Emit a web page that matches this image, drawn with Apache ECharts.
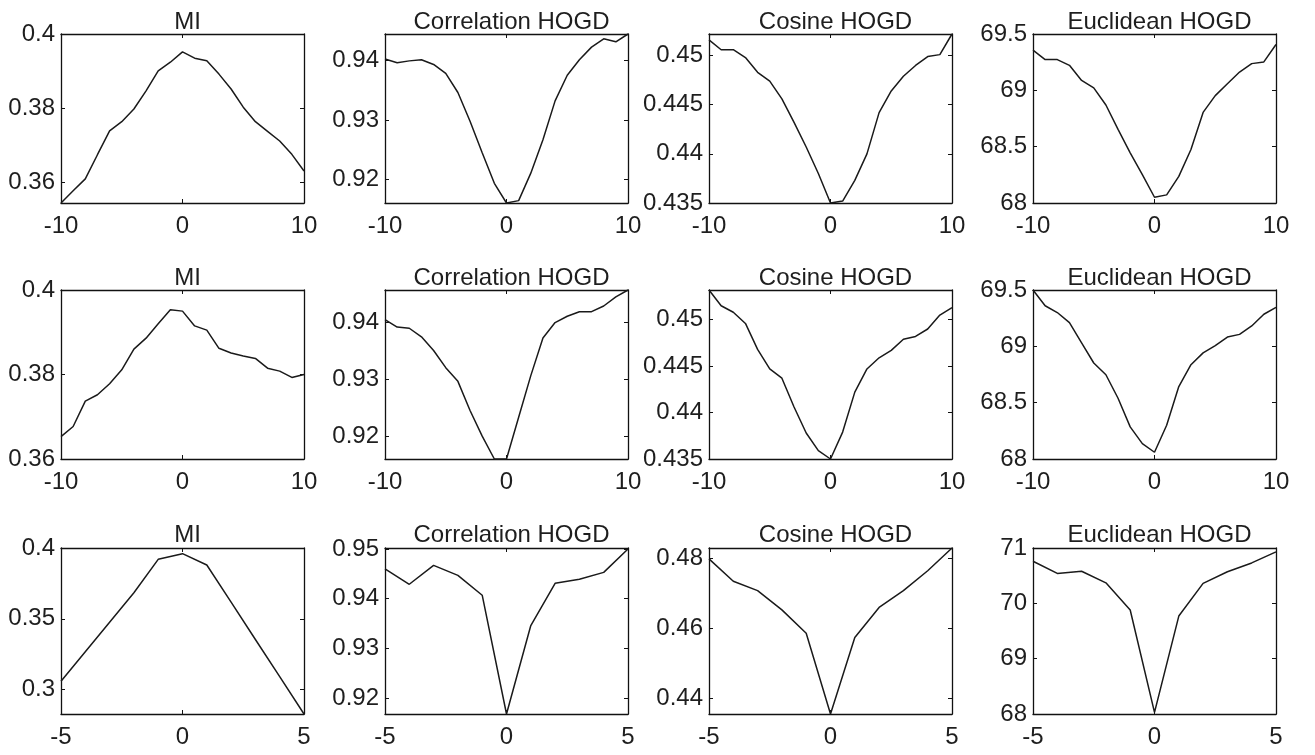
<!DOCTYPE html>
<html>
<head>
<meta charset="utf-8">
<script src="https://cdn.jsdelivr.net/npm/echarts@6/dist/echarts.min.js"></script>
<style>
  html, body { margin: 0; padding: 0; background: #fff; }
  #chart { width: 1315px; height: 755px; }
</style>
</head>
<body>
<div id="chart"></div>
<script>
// x offsets
const xs10 = [-10, -9, -8, -7, -6, -5, -4, -3, -2, -1, 0, 1, 2, 3, 4, 5, 6, 7, 8, 9, 10];
const xs5 = [-5, -4, -3, -2, -1, 0, 1, 2, 3, 4, 5];

const titles = ["MI", "Correlation HOGD", "Cosine HOGD", "Euclidean HOGD"];

// row 1
const mi1 = [0.3545, 0.3578, 0.3610, 0.3675, 0.3739, 0.3764, 0.3798, 0.3847, 0.3901, 0.3924, 0.3952,
  0.3935, 0.3928, 0.3892, 0.3852, 0.3803, 0.3764, 0.3738, 0.3712, 0.3676, 0.3631];
const corr1 = [0.9402, 0.9396, 0.9399, 0.9401, 0.9393, 0.9378, 0.9346, 0.9298, 0.9245, 0.9194, 0.9161,
  0.9165, 0.9211, 0.9267, 0.9332, 0.9375, 0.9401, 0.9422, 0.9436, 0.9431, 0.9444];
const cos1 = [0.4516, 0.4506, 0.4506, 0.4498, 0.4483, 0.4474, 0.4456, 0.4432, 0.4407, 0.4380, 0.4350,
  0.4352, 0.4373, 0.4400, 0.4442, 0.4464, 0.4479, 0.4490, 0.4499, 0.4501, 0.4522];
const euc1 = [69.357, 69.273, 69.273, 69.222, 69.088, 69.022, 68.870, 68.654, 68.445, 68.251, 68.051,
  68.072, 68.236, 68.475, 68.804, 68.953, 69.058, 69.162, 69.237, 69.252, 69.407];

// row 2
const mi2 = [0.3653, 0.3677, 0.3737, 0.3752, 0.3778, 0.3811, 0.3860, 0.3886, 0.3920, 0.3953, 0.3950,
  0.3915, 0.3905, 0.3862, 0.3851, 0.3844, 0.3838, 0.3815, 0.3808, 0.3793, 0.3800];
const corr2 = [0.9405, 0.9392, 0.9390, 0.9375, 0.9351, 0.9321, 0.9297, 0.9246, 0.9201, 0.9161, 0.9161,
  0.9234, 0.9307, 0.9373, 0.9400, 0.9411, 0.9419, 0.9419, 0.9429, 0.9445, 0.9457];
const cos2 = [0.4532, 0.4515, 0.4508, 0.4496, 0.4468, 0.4447, 0.4437, 0.4406, 0.4378, 0.4359, 0.4350,
  0.4379, 0.4422, 0.4447, 0.4459, 0.4467, 0.4479, 0.4482, 0.4490, 0.4505, 0.4513];
const euc2 = [69.500, 69.360, 69.300, 69.210, 69.031, 68.852, 68.748, 68.539, 68.285, 68.136, 68.060,
  68.299, 68.643, 68.837, 68.942, 69.007, 69.082, 69.106, 69.181, 69.285, 69.345];

// row 3
const mi3 = [0.3059, 0.3267, 0.3476, 0.3684, 0.3920, 0.3960, 0.3880, 0.3618, 0.3354, 0.3092, 0.2828];
const corr3 = [0.9460, 0.9429, 0.9467, 0.9447, 0.9407, 0.9168, 0.9346, 0.9431, 0.9439, 0.9453, 0.9500];
const cos3 = [0.4798, 0.4734, 0.4707, 0.4652, 0.4585, 0.4354, 0.4573, 0.4659, 0.4707, 0.4764, 0.4829];
const euc3 = [70.76, 70.54, 70.58, 70.37, 69.88, 68.03, 69.77, 70.36, 70.57, 70.73, 70.93];

// tick labels
const xTicks10 = [-10, 0, 10];
const xTicks5 = [-5, 0, 5];
const yTicksMI = [0.36, 0.38, 0.4];
const yTicksMI3 = [0.3, 0.35, 0.4];
const yTicksCorr = [0.92, 0.93, 0.94];
const yTicksCorr3 = [0.92, 0.93, 0.94, 0.95];
const yTicksCos = [0.435, 0.44, 0.445, 0.45];
const yTicksCos3 = [0.44, 0.46, 0.48];
const yTicksEuc = [68, 68.5, 69, 69.5];
const yTicksEuc3 = [68, 69, 70, 71];

// y limits per panel (row-major)
const yLimits = [
  [0.3545, 0.4], [0.9161, 0.9444], [0.435, 0.4522], [68, 69.5],
  [0.36, 0.4], [0.9161, 0.9457], [0.435, 0.4532], [68, 69.5],
  [0.2828, 0.4], [0.9168, 0.9502], [0.4354, 0.4829], [68, 71]
];

const panels = [
  { x: xs10, y: mi1, xt: xTicks10, yt: yTicksMI },
  { x: xs10, y: corr1, xt: xTicks10, yt: yTicksCorr },
  { x: xs10, y: cos1, xt: xTicks10, yt: yTicksCos },
  { x: xs10, y: euc1, xt: xTicks10, yt: yTicksEuc },
  { x: xs10, y: mi2, xt: xTicks10, yt: yTicksMI },
  { x: xs10, y: corr2, xt: xTicks10, yt: yTicksCorr },
  { x: xs10, y: cos2, xt: xTicks10, yt: yTicksCos },
  { x: xs10, y: euc2, xt: xTicks10, yt: yTicksEuc },
  { x: xs5, y: mi3, xt: xTicks5, yt: yTicksMI3 },
  { x: xs5, y: corr3, xt: xTicks5, yt: yTicksCorr3 },
  { x: xs5, y: cos3, xt: xTicks5, yt: yTicksCos3 },
  { x: xs5, y: euc3, xt: xTicks5, yt: yTicksEuc3 }
];

// layout
const colLeft = [61, 385, 709, 1033];
const boxWidth = 243;
const rowTop = [34, 290, 548];
const rowHeight = [169, 169, 166];
const titleTop = [5, 261, 518];

const font = "'Liberation Sans', Arial, sans-serif";
const textColor = "#1e1e1e";
const fmt = (v) => String(parseFloat(Number(v).toFixed(4)));

const grid = [];
const title = [];
const xAxis = [];
const yAxis = [];
const series = [];

panels.forEach((p, i) => {
  const r = Math.floor(i / 4);
  const c = i % 4;
  grid.push({ left: colLeft[c], top: rowTop[r], width: boxWidth, height: rowHeight[r], containLabel: false });
  title.push({
    text: titles[c],
    left: colLeft[c] + boxWidth / 2,
    top: titleTop[r],
    textAlign: "center",
    textStyle: { fontFamily: font, fontSize: 24, fontWeight: "normal", color: textColor }
  });

  const xMin = p.x[0];
  const xMax = p.x[p.x.length - 1];
  const [yMin, yMax] = yLimits[i];
  const line = { show: true, onZero: false, lineStyle: { color: "#111", width: 1.3 } };
  const tick = (vals) => ({ show: true, inside: true, length: 4, customValues: vals, lineStyle: { color: "#111" } });

  xAxis.push({
    type: "value", gridIndex: i, position: "bottom", min: xMin, max: xMax,
    axisLine: line, axisTick: tick(p.xt), splitLine: { show: false },
    axisLabel: { customValues: p.xt, formatter: fmt, margin: 11, fontFamily: font, fontSize: 24, color: textColor }
  });
  xAxis.push({
    type: "value", gridIndex: i, position: "top", min: xMin, max: xMax,
    axisLine: line, axisTick: tick(p.xt), splitLine: { show: false }, axisLabel: { show: false }
  });
  yAxis.push({
    type: "value", gridIndex: i, position: "left", min: yMin, max: yMax,
    axisLine: line, axisTick: tick(p.yt), splitLine: { show: false },
    axisLabel: { customValues: p.yt, formatter: fmt, margin: 6, fontFamily: font, fontSize: 24, color: textColor }
  });
  yAxis.push({
    type: "value", gridIndex: i, position: "right", min: yMin, max: yMax,
    axisLine: line, axisTick: tick(p.yt), splitLine: { show: false }, axisLabel: { show: false }
  });

  series.push({
    type: "line",
    xAxisIndex: 2 * i,
    yAxisIndex: 2 * i,
    data: p.x.map((xv, k) => [xv, p.y[k]]),
    showSymbol: false,
    clip: false,
    lineStyle: { color: "#1a1a1a", width: 1.5 }
  });
});

const chart = echarts.init(document.getElementById("chart"), null, { renderer: "canvas" });
chart.setOption({
  animation: false,
  backgroundColor: "#ffffff",
  title,
  grid,
  xAxis,
  yAxis,
  series
});
</script>
</body>
</html>
